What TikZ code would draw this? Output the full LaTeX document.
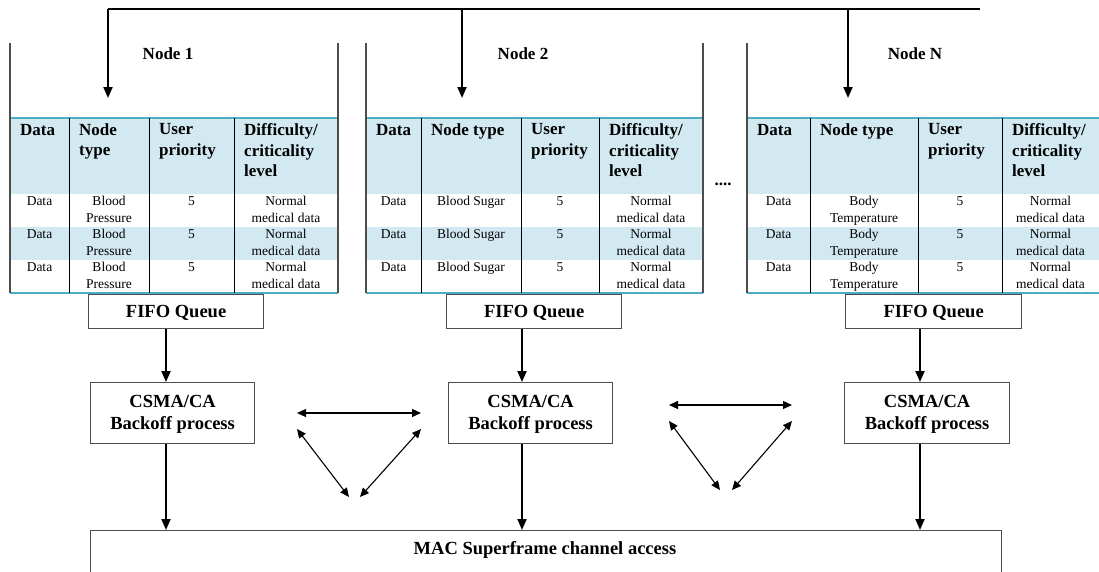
\documentclass[tikz,border=0pt]{standalone}
\usepackage{fontspec}
\setmainfont{Liberation Serif}
\usetikzlibrary{arrows.meta}
\definecolor{hdblue}{HTML}{D3E9F2}
\definecolor{tealc}{HTML}{4BACC6}
\definecolor{panelgray}{HTML}{4D4D4D}
\tikzset{
  hdtext/.style={anchor=north west,align=left,inner sep=0pt,font=\fontsize{17}{20.5}\selectfont\bfseries,execute at begin node=\vphantom{Ald}},
  bdtext/.style={anchor=north,align=center,inner sep=0pt,font=\fontsize{13.5}{16.5}\selectfont,execute at begin node=\vphantom{Ald}},
  nodelabel/.style={anchor=base,inner sep=0pt,font=\fontsize{17}{20}\selectfont\bfseries},
  procbox/.style={draw=panelgray,line width=1.2pt,inner sep=0pt},
  proctext/.style={anchor=base,inner sep=0pt,align=center,font=\fontsize{18.5}{22}\selectfont\bfseries},
  thickarrow/.style={line width=2pt,-{Triangle[length=11pt,width=9pt]}},
  busline/.style={line width=2pt},
  duoarrow/.style={line width=1.1pt,{Triangle[length=9pt,width=8pt]}-{Triangle[length=9pt,width=8pt]}},
  panelline/.style={draw=panelgray,line width=1.2pt},
  colline/.style={draw=black,line width=1pt},
  tealline/.style={draw=tealc,line width=1.2pt},
}
\begin{document}
\begin{tikzpicture}[x=1pt,y=-1pt]
\useasboundingbox (0,0) rectangle (1099,571);
% tables
\foreach \p/\L/\A/\B/\C/\R/\hd/\bd in {
  1/10/69/149/234/338/{Node\\type}/{Blood\\Pressure},
  2/366/421/521/599/703/{Node type}/{Blood Sugar},
  3/747/810/918/1002/1099/{Node type}/{Body\\Temperature}}{
  \fill[hdblue] (\L,118) rectangle (\R,194);
  \fill[hdblue] (\L,227) rectangle (\R,260);
  \draw[tealline] (\L,118) -- (\R,118);
  \draw[tealline] (\L,293) -- (\R,293);
  \draw[colline] (\A,118) -- (\A,293);
  \draw[colline] (\B,118) -- (\B,293);
  \draw[colline] (\C,118) -- (\C,293);
  \node[hdtext] (h\p a) at (\L+10,123.4) {Data};
  \node[hdtext] (h\p b) at (\A+10,123.4) {\hd};
  \node[hdtext] (h\p c) at (\B+10,123.4) {User\\priority};
  \node[hdtext] (h\p d) at (\C+10,123.4) {Difficulty/\\criticality\\level};
  \foreach \r/\t in {1/194,2/227,3/260}{
    \node[bdtext] (d\p\r a) at ({(\L+\A)/2},\t+2.2) {Data};
    \node[bdtext] (d\p\r b) at ({(\A+\B)/2},\t+2.2) {\bd};
    \node[bdtext] (d\p\r c) at ({(\B+\C)/2},\t+2.2) {5};
    \node[bdtext] (d\p\r d) at ({(\C+\R)/2},\t+2.2) {Normal\\medical data};
  }
}
% panel outer lines
\draw[panelline] (10,43) -- (10,293);
\draw[panelline] (338,43) -- (338,293);
\draw[panelline] (366,43) -- (366,293);
\draw[panelline] (703,43) -- (703,293);
\draw[panelline] (747,43) -- (747,293);
% node labels
\node[nodelabel] (n1) at (168,59) {Node 1};
\node[nodelabel] (n2) at (523,59) {Node 2};
\node[nodelabel] (nN) at (915,59) {Node N};
\node[nodelabel] (dots) at (723,185) {....};
% bus
\coordinate (b0) at (108,9);
\coordinate (b1) at (462,9);
\coordinate (b2) at (848,9);
\coordinate (bend) at (980,9);
\coordinate (t1) at (108,98);
\coordinate (t2) at (462,98);
\coordinate (t3) at (848,98);
\draw[busline] (b0) -- (bend);
\draw[thickarrow] (b0) -- (t1);
\draw[thickarrow] (b1) -- (t2);
\draw[thickarrow] (b2) -- (t3);
% FIFO boxes
\node[procbox,minimum width=175pt,minimum height=34pt,anchor=north west] (f1) at (88,294) {};
\node[procbox,minimum width=175pt,minimum height=34pt,anchor=north west] (f2) at (446,294) {};
\node[procbox,minimum width=176pt,minimum height=34pt,anchor=north west] (f3) at (845,294) {};
\foreach \i in {1,2,3}{
  \node[proctext] (fl\i) at ([yshift=-23pt]f\i.north) {FIFO Queue};
}
% CSMA boxes
\node[procbox,minimum width=164pt,minimum height=61pt,anchor=north west] (c1) at (90,382) {};
\node[procbox,minimum width=164pt,minimum height=61pt,anchor=north west] (c2) at (448,382) {};
\node[procbox,minimum width=165pt,minimum height=61pt,anchor=north west] (c3) at (844,382) {};
\foreach \i in {1,2,3}{
  \node[proctext] (cl\i) at ([yshift=-47pt]c\i.north) {CSMA/CA\\Backoff process};
}
% MAC box
\node[procbox,minimum width=911pt,minimum height=50pt,anchor=north west] (mac) at (90,530) {};
\node[proctext] (macl) at (545,554) {MAC Superframe channel access};
% vertical arrows
\coordinate (x1) at (166,0);
\coordinate (x2) at (522,0);
\coordinate (x3) at (920,0);
\foreach \i in {1,2,3}{
  \draw[thickarrow] (f\i.south -| x\i) -- (c\i.north -| x\i);
  \draw[thickarrow] (c\i.south -| x\i) -- (mac.north -| x\i);
}
% triangles
\coordinate (p1) at (297,413); \coordinate (q1) at (421,413);
\coordinate (p1b) at (297,429); \coordinate (q1b) at (421,429);
\coordinate (r1) at (349,497); \coordinate (s1) at (360,497);
\draw[duoarrow] (p1) -- (q1);
\draw[duoarrow] (p1b) -- (r1);
\draw[duoarrow] (q1b) -- (s1);
\coordinate (p2) at (669,405); \coordinate (q2) at (792,405);
\coordinate (p2b) at (669,421); \coordinate (q2b) at (792,421);
\coordinate (r2) at (720,490); \coordinate (s2) at (732,490);
\draw[duoarrow] (p2) -- (q2);
\draw[duoarrow] (p2b) -- (r2);
\draw[duoarrow] (q2b) -- (s2);
\end{tikzpicture}
\end{document}
